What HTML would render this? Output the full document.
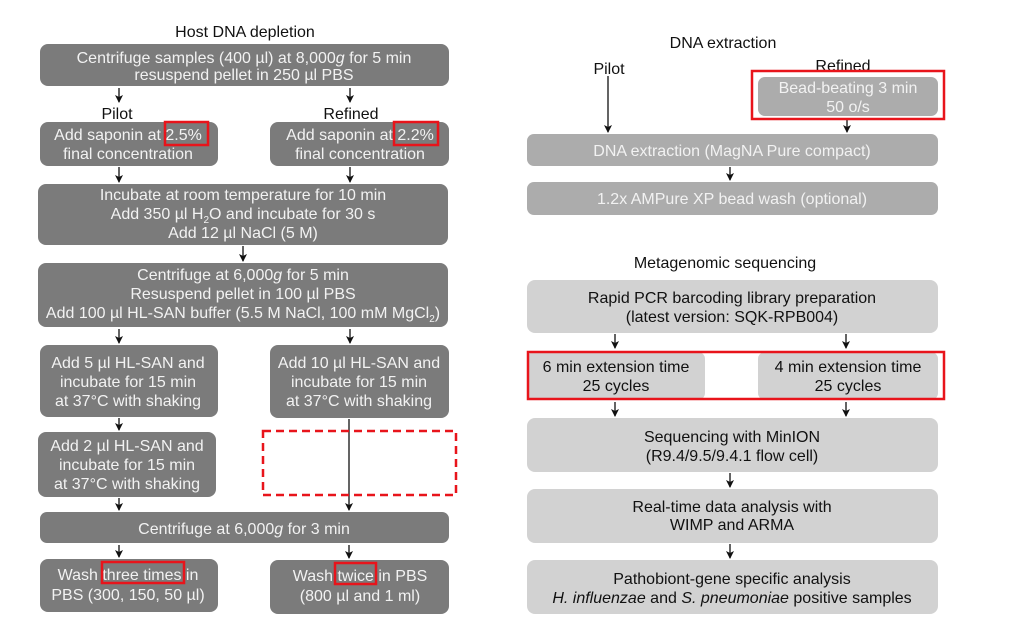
<!DOCTYPE html>
<html><head><meta charset="utf-8"><style>
body{margin:0;background:#fff}
svg{display:block;font-family:"Liberation Sans",sans-serif;font-size:16px}
.d{fill:#7b7b7b}.m{fill:#acacac}.l{fill:#d2d2d2}
.tw{fill:#f2f2f2;text-anchor:middle}.tb{fill:#111;text-anchor:middle}
.r{fill:none;stroke:#e8141b;stroke-width:2.5}
.a{stroke:#111;stroke-width:1.3;fill:none}
</style></head><body>
<svg width="1034" height="636" viewBox="0 0 1034 636">
<defs><marker id="ah" markerWidth="8" markerHeight="8" refX="7" refY="4" orient="auto" markerUnits="userSpaceOnUse"><path d="M0,0 L8,4 L0,8 L2,4z" fill="#111"/></marker></defs>
<g class="a" marker-end="url(#ah)">
<line x1="119" y1="88" x2="119" y2="102"/><line x1="350" y1="88" x2="350" y2="102"/>
<line x1="119" y1="167" x2="119" y2="182"/><line x1="350" y1="167" x2="350" y2="182"/>
<line x1="243" y1="246" x2="243" y2="261"/>
<line x1="119" y1="329" x2="119" y2="343"/><line x1="350" y1="329" x2="350" y2="343"/>
<line x1="119" y1="418" x2="119" y2="430"/>
<line x1="349" y1="419" x2="349" y2="510"/>
<line x1="119" y1="498" x2="119" y2="510"/>
<line x1="119" y1="545" x2="119" y2="557"/><line x1="349" y1="545" x2="349" y2="558"/>
<line x1="608" y1="76" x2="608" y2="132"/><line x1="847" y1="118" x2="847" y2="132"/>
<line x1="730" y1="167" x2="730" y2="180"/>
<line x1="615" y1="334" x2="615" y2="348"/><line x1="846" y1="334" x2="846" y2="348"/>
<line x1="615" y1="402" x2="615" y2="416"/><line x1="846" y1="402" x2="846" y2="416"/>
<line x1="730" y1="473" x2="730" y2="487"/>
<line x1="730" y1="544" x2="730" y2="558"/>
</g>
<text x="245" y="37" class="tb">Host DNA depletion</text>
<rect class="d" x="40" y="44" width="409" height="42" rx="8"/>
<text class="tw" x="244" y="63">Centrifuge samples (400 µl) at 8,000<tspan font-style="italic">g</tspan> for 5 min</text>
<text class="tw" x="244" y="80">resuspend pellet in 250 µl PBS</text>
<text class="tb" x="117" y="119">Pilot</text><text class="tb" x="351" y="119">Refined</text>
<rect class="d" x="40" y="122" width="178" height="44" rx="8"/>
<text class="tw" x="128" y="140">Add saponin at 2.5%</text><text class="tw" x="128" y="159">final concentration</text>
<rect class="d" x="270" y="122" width="179" height="44" rx="8"/>
<text class="tw" x="360" y="140">Add saponin at 2.2%</text><text class="tw" x="360" y="159">final concentration</text>
<rect class="r" x="165" y="122" width="43" height="23"/><rect class="r" x="394" y="122" width="44" height="23"/>
<rect class="d" x="38" y="184" width="410" height="61" rx="8"/>
<text class="tw" x="243" y="200">Incubate at room temperature for 10 min</text>
<text class="tw" x="243" y="219">Add 350 µl H<tspan font-size="10" dy="4">2</tspan><tspan dy="-4">O and incubate for 30 s</tspan></text>
<text class="tw" x="243" y="238">Add 12 µl NaCl (5 M)</text>
<rect class="d" x="38" y="263" width="410" height="64" rx="8"/>
<text class="tw" x="243" y="280">Centrifuge at 6,000<tspan font-style="italic">g</tspan> for 5 min</text>
<text class="tw" x="243" y="299">Resuspend pellet in 100 µl PBS</text>
<text class="tw" x="243" y="318">Add 100 µl HL-SAN buffer (5.5 M NaCl, 100 mM MgCl<tspan font-size="10" dy="4">2</tspan><tspan dy="-4">)</tspan></text>
<rect class="d" x="40" y="345" width="178" height="72" rx="8"/>
<text class="tw" x="128" y="368">Add 5 µl HL-SAN and</text><text class="tw" x="128" y="387">incubate for 15 min</text><text class="tw" x="128" y="406">at 37°C with shaking</text>
<rect class="d" x="270" y="345" width="179" height="73" rx="8"/>
<text class="tw" x="359" y="368">Add 10 µl HL-SAN and</text><text class="tw" x="359" y="387">incubate for 15 min</text><text class="tw" x="359" y="406">at 37°C with shaking</text>
<rect class="d" x="38" y="432" width="178" height="65" rx="8"/>
<text class="tw" x="127" y="451">Add 2 µl HL-SAN and</text><text class="tw" x="127" y="470">incubate for 15 min</text><text class="tw" x="127" y="489">at 37°C with shaking</text>
<rect x="263" y="431" width="193" height="64" fill="none" stroke="#e8141b" stroke-width="2.5" stroke-dasharray="8,5"/>
<rect class="d" x="40" y="512" width="409" height="31" rx="7"/>
<text class="tw" x="244" y="534">Centrifuge at 6,000<tspan font-style="italic">g</tspan> for 3 min</text>
<rect class="d" x="40" y="559" width="178" height="53" rx="8"/>
<text class="tw" x="128" y="580">Wash three times in</text><text class="tw" x="128" y="600">PBS (300, 150, 50 µl)</text>
<rect class="d" x="270" y="560" width="179" height="54" rx="8"/>
<text class="tw" x="360" y="581">Wash twice in PBS</text><text class="tw" x="360" y="601">(800 µl and 1 ml)</text>
<rect class="r" x="102" y="562" width="82" height="21"/><rect class="r" x="335" y="563" width="41" height="21"/>

<text class="tb" x="723" y="48">DNA extraction</text>
<text class="tb" x="609" y="74">Pilot</text><text class="tb" x="843" y="71">Refined</text>
<rect class="m" x="758" y="77" width="180" height="39" rx="7"/>
<text class="tw" x="848" y="93">Bead-beating 3 min</text><text class="tw" x="848" y="112">50 o/s</text>
<rect class="r" x="752" y="71" width="192" height="48"/>
<rect class="m" x="527" y="134" width="411" height="32" rx="7"/>
<text class="tw" x="732" y="156">DNA extraction (MagNA Pure compact)</text>
<rect class="m" x="527" y="182" width="411" height="33" rx="7"/>
<text class="tw" x="732" y="204">1.2x AMPure XP bead wash (optional)</text>
<text class="tb" x="725" y="268">Metagenomic sequencing</text>
<rect class="l" x="527" y="280" width="411" height="53" rx="8"/>
<text class="tb" x="732" y="303">Rapid PCR barcoding library preparation</text><text class="tb" x="732" y="322">(latest version: SQK-RPB004)</text>
<rect class="l" x="527" y="352" width="178" height="48" rx="7"/>
<text class="tb" x="616" y="372">6 min extension time</text><text class="tb" x="616" y="391">25 cycles</text>
<rect class="l" x="758" y="352" width="180" height="48" rx="7"/>
<text class="tb" x="848" y="372">4 min extension time</text><text class="tb" x="848" y="391">25 cycles</text>
<rect class="r" x="528" y="352" width="416" height="47"/>
<rect class="l" x="527" y="418" width="411" height="54" rx="8"/>
<text class="tb" x="732" y="442">Sequencing with MinION</text><text class="tb" x="732" y="461">(R9.4/9.5/9.4.1 flow cell)</text>
<rect class="l" x="527" y="489" width="411" height="54" rx="8"/>
<text class="tb" x="732" y="512">Real-time data analysis with</text><text class="tb" x="732" y="530">WIMP and ARMA</text>
<rect class="l" x="527" y="560" width="411" height="54" rx="8"/>
<text class="tb" x="732" y="584">Pathobiont-gene specific analysis</text>
<text class="tb" x="732" y="603"><tspan font-style="italic">H. influenzae</tspan> and <tspan font-style="italic">S. pneumoniae</tspan> positive samples</text>
</svg>
</body></html>
